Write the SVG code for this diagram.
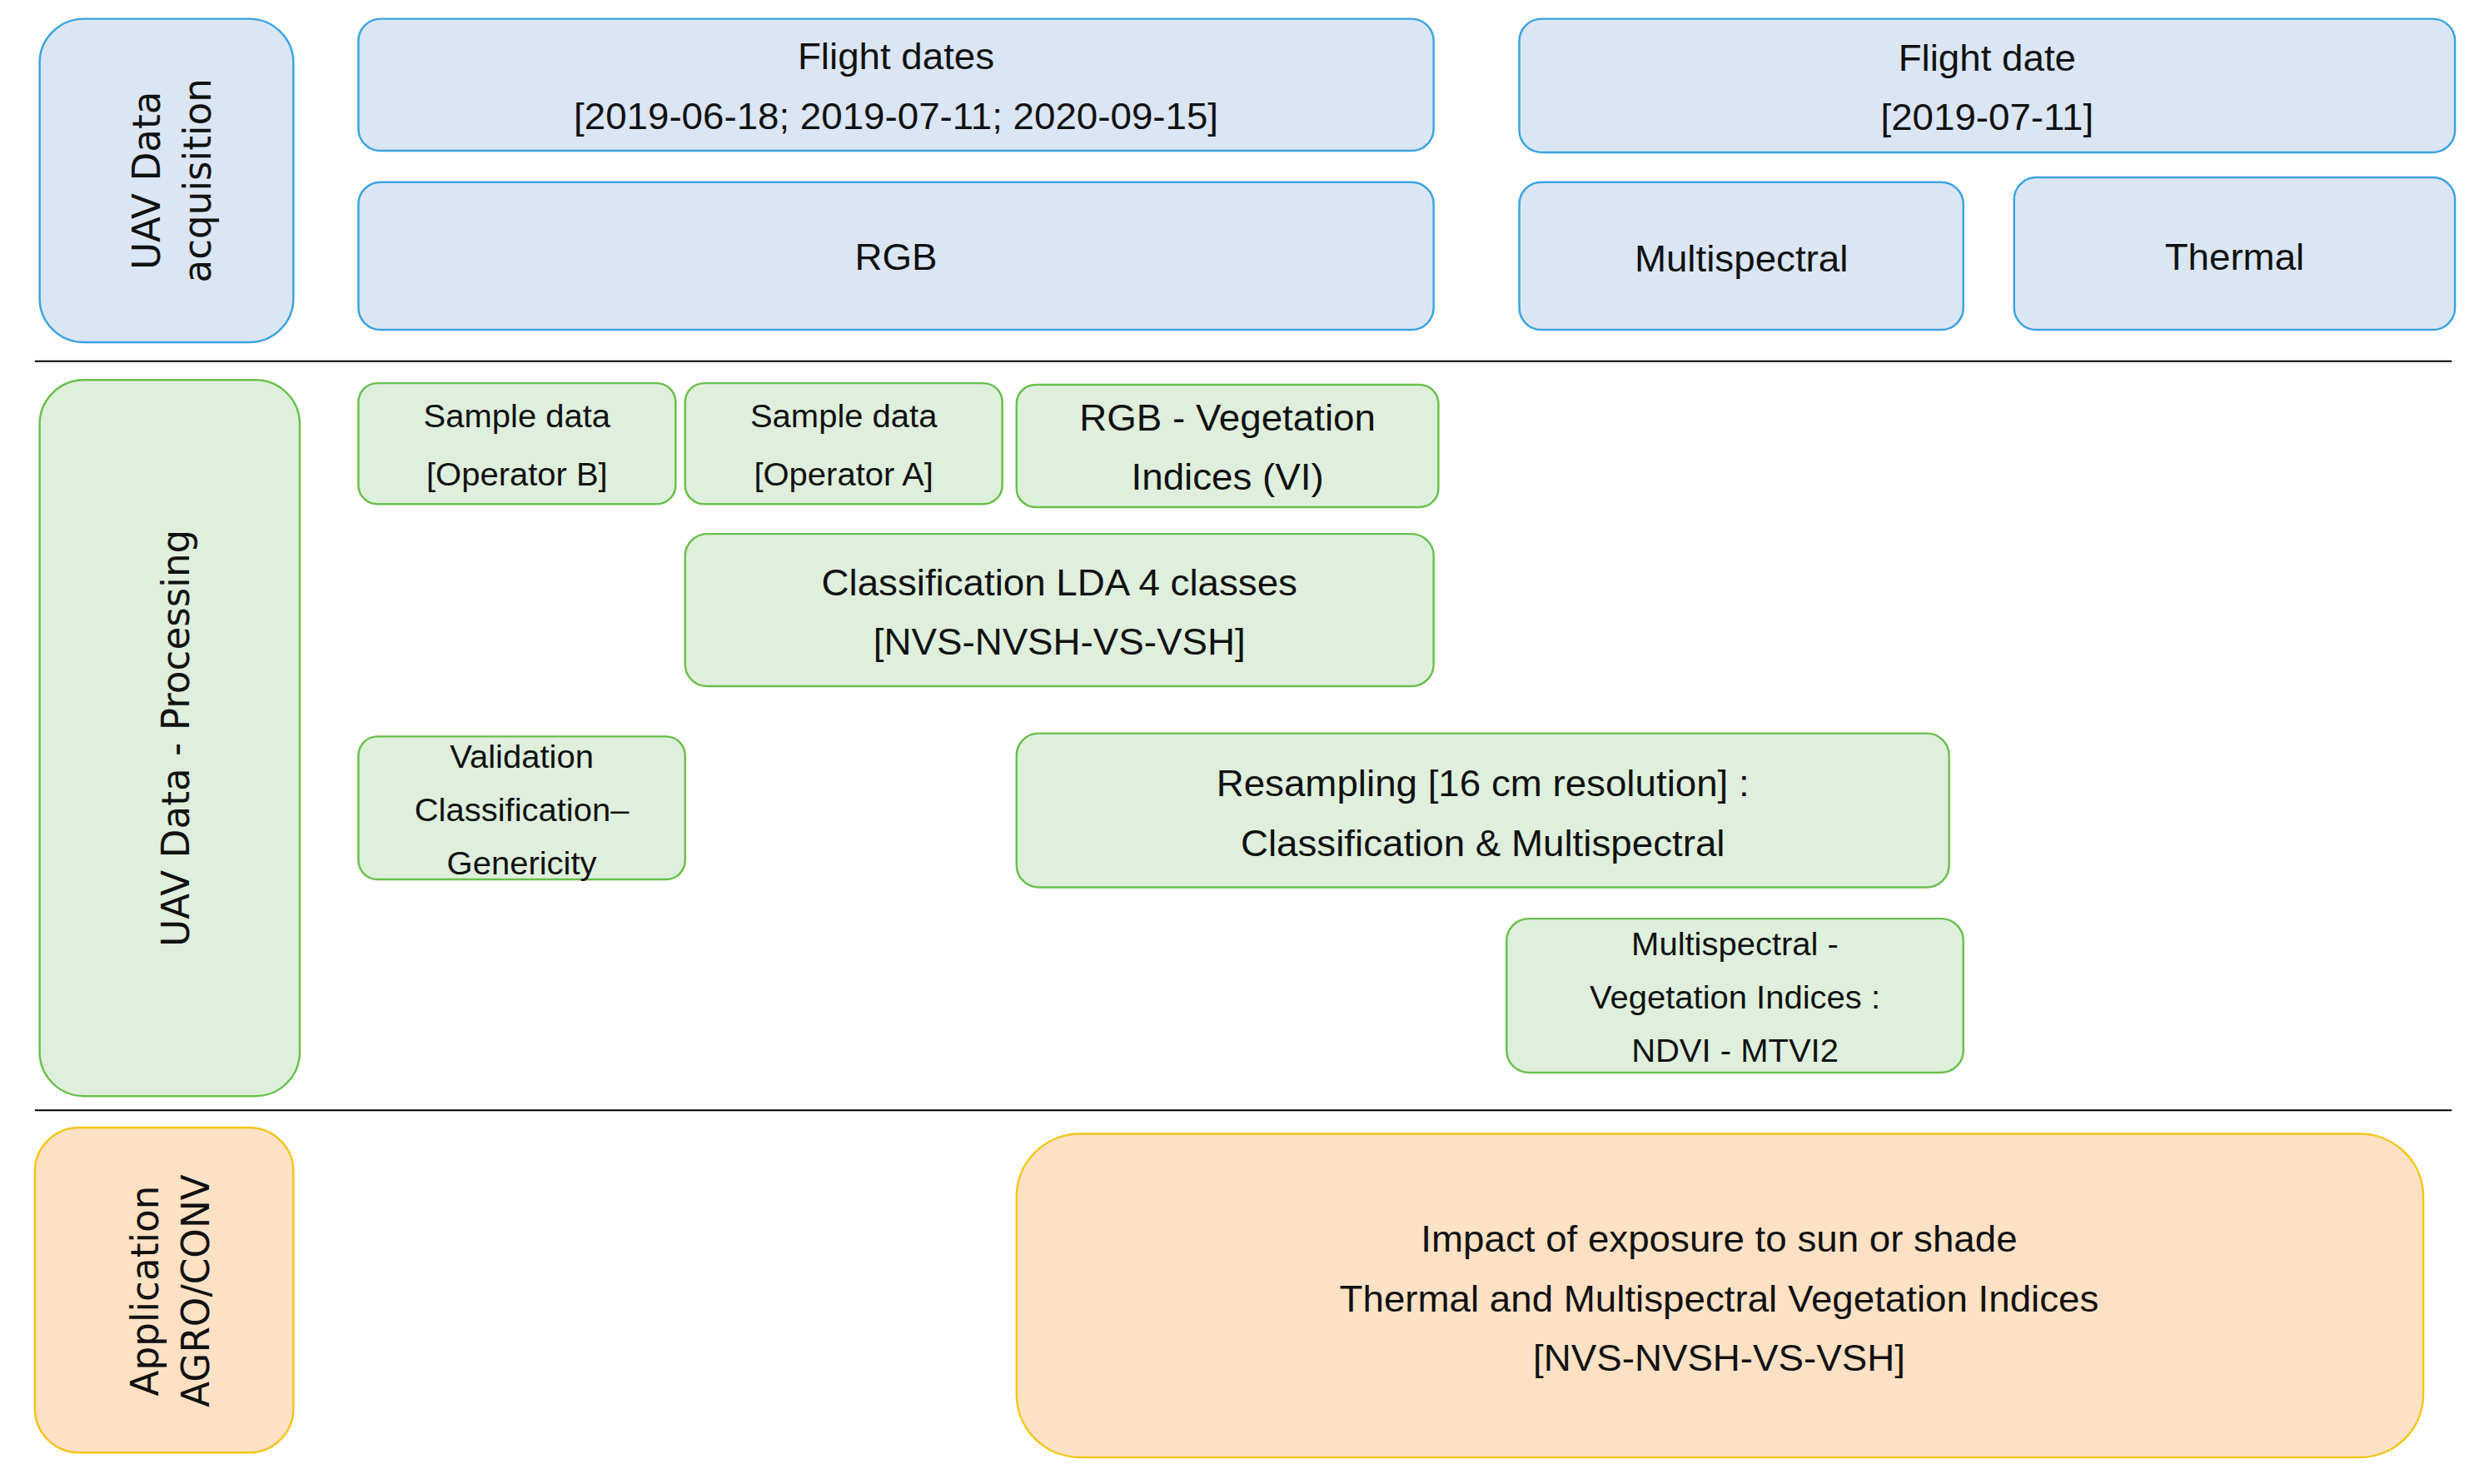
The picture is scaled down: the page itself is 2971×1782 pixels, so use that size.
<svg xmlns="http://www.w3.org/2000/svg" width="2971" height="1782" viewBox="0 0 2971 1782">
<style>
.b{fill:#dae6f4;stroke:#3ba3e0;stroke-width:1.3}
.g{fill:#deefdc;stroke:#6abf4b;stroke-width:1.3}
.o{fill:#fde1c5;stroke:#f5c518;stroke-width:1.3}
text{font-family:"Liberation Sans",Arial,sans-serif;fill:#111;text-anchor:middle}
.t{font-size:24px}.s{font-size:21px}
.v{font-family:"DejaVu Sans",Verdana,sans-serif;font-size:24px}
</style>
<rect width="2971" height="1782" fill="#fff"/>
<g transform="scale(1.9045 1.8857)">
<g id="lines"><line x1="22" y1="230" x2="1546" y2="230" stroke="#000" stroke-width="1"/><line x1="22" y1="707" x2="1546" y2="707" stroke="#000" stroke-width="1"/></g>
<g id="acq"><rect class="b" x="25" y="12" width="160" height="206" rx="28"/><text class="v" transform="translate(105 115) rotate(-90)"><tspan x="0" y="-4">UAV Data</tspan><tspan x="0" y="28">acquisition</tspan></text></g>
<g id="dates"><rect class="b" x="226" y="12" width="678" height="84" rx="14"/><text class="t" x="565" y="44">Flight dates</text><text class="t" x="565" y="82">[2019-06-18; 2019-07-11; 2020-09-15]</text></g>
<g id="rgb"><rect class="b" x="226" y="116" width="678" height="94" rx="14"/><text class="t" x="565" y="172">RGB</text></g>
<g id="date"><rect class="b" x="958" y="12" width="590" height="85" rx="14"/><text class="t" x="1253" y="45">Flight date</text><text class="t" x="1253" y="83">[2019-07-11]</text></g>
<g id="ms"><rect class="b" x="958" y="116" width="280" height="94" rx="14"/><text class="t" x="1098" y="173">Multispectral</text></g>
<g id="th"><rect class="b" x="1270" y="113" width="278" height="97" rx="14"/><text class="t" x="1409" y="172">Thermal</text></g>
<g id="proc"><rect class="g" x="25" y="242" width="164" height="456" rx="28"/><text class="v" transform="translate(119 470) rotate(-90)">UAV Data - Processing</text></g>
<g id="sb"><rect class="g" x="226" y="244" width="200" height="77" rx="12"/><text class="s" x="326" y="272">Sample data</text><text class="s" x="326" y="309">[Operator B]</text></g>
<g id="sa"><rect class="g" x="432" y="244" width="200" height="77" rx="12"/><text class="s" x="532" y="272">Sample data</text><text class="s" x="532" y="309">[Operator A]</text></g>
<g id="vi"><rect class="g" x="641" y="245" width="266" height="78" rx="12"/><text class="t" x="774" y="274">RGB - Vegetation</text><text class="t" x="774" y="312">Indices (VI)</text></g>
<g id="cls"><rect class="g" x="432" y="340" width="472" height="97" rx="14"/><text class="t" x="668" y="379">Classification LDA 4 classes</text><text class="t" x="668" y="417">[NVS-NVSH-VS-VSH]</text></g>
<g id="val"><rect class="g" x="226" y="469" width="206" height="91" rx="12"/><text class="s" x="329" y="489">Validation</text><text class="s" x="329" y="523">Classification–</text><text class="s" x="329" y="557">Genericity</text></g>
<g id="res"><rect class="g" x="641" y="467" width="588" height="98" rx="14"/><text class="t" x="935" y="507">Resampling [16 cm resolution] :</text><text class="t" x="935" y="545">Classification &amp; Multispectral</text></g>
<g id="msvi"><rect class="g" x="950" y="585" width="288" height="98" rx="14"/><text class="s" x="1094" y="608">Multispectral -</text><text class="s" x="1094" y="642">Vegetation Indices :</text><text class="s" x="1094" y="676">NDVI - MTVI2</text></g>
<g id="app"><rect class="o" x="22" y="718" width="163" height="207" rx="28"/><text class="v" transform="translate(104 822) rotate(-90)"><tspan x="0" y="-4">Application</tspan><tspan x="0" y="28">AGRO/CONV</tspan></text></g>
<g id="imp"><rect class="o" x="641" y="722" width="887" height="206" rx="40"/><text class="t" x="1084" y="797">Impact of exposure to sun or shade</text><text class="t" x="1084" y="835">Thermal and Multispectral Vegetation Indices</text><text class="t" x="1084" y="873">[NVS-NVSH-VS-VSH]</text></g>
</g>
</svg>
